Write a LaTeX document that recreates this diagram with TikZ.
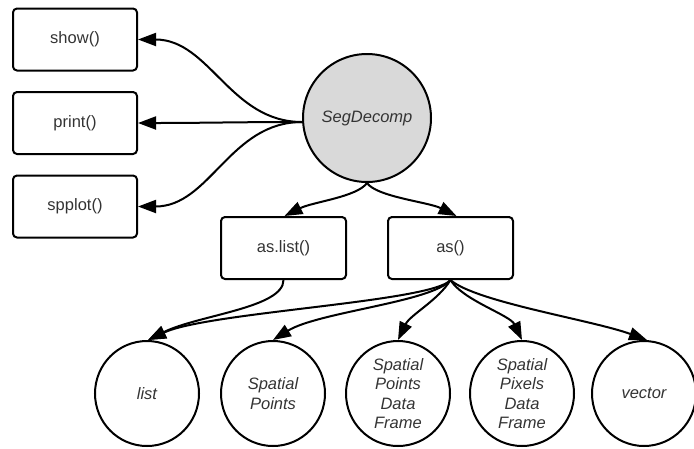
\documentclass[tikz,border=0pt]{standalone}
\usepackage{fontspec}
\setmainfont{Liberation Sans}
\usetikzlibrary{arrows.meta,shapes.geometric}
\definecolor{segfill}{HTML}{D9D9D9}
\definecolor{txt}{HTML}{333333}
\begin{document}
\begin{tikzpicture}[x=1pt,y=-1pt,
  every node/.style={font=\fontsize{16.5}{19.5}\selectfont, text=txt, align=center, line width=2pt},
  fbox/.style={draw, rectangle, rounded corners=4pt, minimum width=124pt, minimum height=62pt, inner sep=0pt},
  obj/.style={draw, ellipse, minimum width=104pt, minimum height=105pt, inner sep=0pt, font=\fontsize{16.5}{19.5}\selectfont\itshape},
  link/.style={draw, line width=2pt, -{Triangle[length=18pt,width=13pt]}}
]
\useasboundingbox (0,0) rectangle (694,448);
\node[fbox] (show) at (75,39.5) {show()};
\node[fbox] (print) at (75,123) {print()};
\node[fbox] (spplot) at (75,206.5) {spplot()};
\node[draw, circle, fill=segfill, minimum size=128pt, inner sep=0pt, font=\fontsize{16.5}{19.5}\selectfont\itshape] (seg) at (367,118) {SegDecomp};
\node[fbox, minimum width=125pt] (aslist) at (283.5,248) {as.list()};
\node[fbox, minimum width=125pt] (as) at (450.5,248) {as()};
\node[obj] (list) at (147,393.5) {list};
\node[obj] (sp) at (273,393.5) {Spatial\\Points};
\node[obj] (spdf) at (398,393.5) {Spatial\\Points\\Data\\Frame};
\node[obj] (spxdf) at (522,393.5) {Spatial\\Pixels\\Data\\Frame};
\node[obj] (vec) at (644,393.5) {vector};
\coordinate (segw) at ([yshift=-4pt]seg.west);

\draw[link] (segw) to[out=180,in=0] (show.east);
\draw[link] (segw) to[out=180,in=0] (print.east);
\draw[link] (segw) to[out=180,in=0] (spplot.east);
\draw[link] (seg.south) .. controls +(-10,14) and +(28,-14) .. ([xshift=1pt]aslist.north);
\draw[link] (seg.south) .. controls +(10,14) and +(-28,-14) .. ([xshift=6pt]as.north);
\draw[link] (aslist.south) .. controls +(0,28) and +(50,-25) .. ([xshift=1pt]list.north);
\draw[link] (as.south) .. controls +(-18,22) and +(60,-28) .. ([xshift=1pt]list.north);
\draw[link] (as.south) .. controls +(-18,22) and +(45,-28) .. (sp.north);
\draw[link] (as.south) .. controls +(-12,20) and +(12,-25) .. (spdf.north);
\draw[link] (as.south) .. controls +(12,20) and +(-12,-25) .. (spxdf.north);
\draw[link] (as.south) .. controls +(25,22) and +(-55,-20) .. ([xshift=3pt]vec.north);
\end{tikzpicture}
\end{document}
